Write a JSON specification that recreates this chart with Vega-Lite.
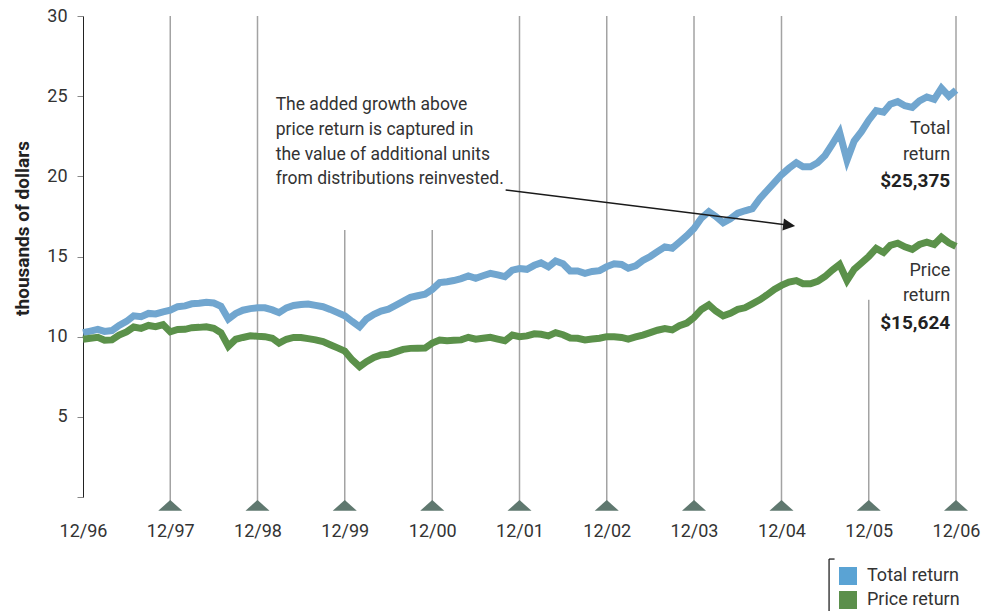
{
  "$schema": "https://vega.github.io/schema/vega-lite/v6.json",
  "width": 873,
  "height": 481,
  "autosize": {"type": "none"},
  "padding": {"left": 83, "top": 16, "right": 39, "bottom": 114},
  "config": {
    "view": {"stroke": null},
    "font": "Roboto"
  },
  "datasets": {
    "series": [
      {"d":"1996-12-01","Total return":10.25,"Price return":9.84},
      {"d":"1997-01-01","Total return":10.35,"Price return":9.9},
      {"d":"1997-02-01","Total return":10.46,"Price return":9.96},
      {"d":"1997-03-01","Total return":10.33,"Price return":9.78},
      {"d":"1997-04-01","Total return":10.38,"Price return":9.8},
      {"d":"1997-05-01","Total return":10.7,"Price return":10.1},
      {"d":"1997-06-01","Total return":10.95,"Price return":10.3},
      {"d":"1997-07-01","Total return":11.3,"Price return":10.6},
      {"d":"1997-08-01","Total return":11.25,"Price return":10.52},
      {"d":"1997-09-01","Total return":11.45,"Price return":10.7},
      {"d":"1997-10-01","Total return":11.42,"Price return":10.62},
      {"d":"1997-11-01","Total return":11.55,"Price return":10.75},
      {"d":"1997-12-01","Total return":11.65,"Price return":10.3},
      {"d":"1998-01-01","Total return":11.87,"Price return":10.45},
      {"d":"1998-02-01","Total return":11.92,"Price return":10.46},
      {"d":"1998-03-01","Total return":12.05,"Price return":10.56},
      {"d":"1998-04-01","Total return":12.08,"Price return":10.58},
      {"d":"1998-05-01","Total return":12.15,"Price return":10.62},
      {"d":"1998-06-01","Total return":12.1,"Price return":10.52},
      {"d":"1998-07-01","Total return":11.9,"Price return":10.25},
      {"d":"1998-08-01","Total return":11.1,"Price return":9.4},
      {"d":"1998-09-01","Total return":11.45,"Price return":9.84},
      {"d":"1998-10-01","Total return":11.65,"Price return":9.95},
      {"d":"1998-11-01","Total return":11.75,"Price return":10.05},
      {"d":"1998-12-01","Total return":11.8,"Price return":10.02},
      {"d":"1999-01-01","Total return":11.8,"Price return":10.0},
      {"d":"1999-02-01","Total return":11.67,"Price return":9.9},
      {"d":"1999-03-01","Total return":11.5,"Price return":9.6},
      {"d":"1999-04-01","Total return":11.8,"Price return":9.84},
      {"d":"1999-05-01","Total return":11.95,"Price return":9.95},
      {"d":"1999-06-01","Total return":12.0,"Price return":9.95},
      {"d":"1999-07-01","Total return":12.04,"Price return":9.88},
      {"d":"1999-08-01","Total return":11.95,"Price return":9.8},
      {"d":"1999-09-01","Total return":11.87,"Price return":9.69},
      {"d":"1999-10-01","Total return":11.7,"Price return":9.5},
      {"d":"1999-11-01","Total return":11.5,"Price return":9.3},
      {"d":"1999-12-01","Total return":11.3,"Price return":9.1},
      {"d":"2000-01-01","Total return":10.95,"Price return":8.55},
      {"d":"2000-02-01","Total return":10.62,"Price return":8.13},
      {"d":"2000-03-01","Total return":11.1,"Price return":8.44},
      {"d":"2000-04-01","Total return":11.4,"Price return":8.7},
      {"d":"2000-05-01","Total return":11.6,"Price return":8.86},
      {"d":"2000-06-01","Total return":11.72,"Price return":8.9},
      {"d":"2000-07-01","Total return":11.95,"Price return":9.05},
      {"d":"2000-08-01","Total return":12.2,"Price return":9.21},
      {"d":"2000-09-01","Total return":12.45,"Price return":9.27},
      {"d":"2000-10-01","Total return":12.55,"Price return":9.28},
      {"d":"2000-11-01","Total return":12.65,"Price return":9.29},
      {"d":"2000-12-01","Total return":12.95,"Price return":9.6},
      {"d":"2001-01-01","Total return":13.37,"Price return":9.79},
      {"d":"2001-02-01","Total return":13.43,"Price return":9.75},
      {"d":"2001-03-01","Total return":13.5,"Price return":9.77},
      {"d":"2001-04-01","Total return":13.62,"Price return":9.8},
      {"d":"2001-05-01","Total return":13.79,"Price return":9.96},
      {"d":"2001-06-01","Total return":13.64,"Price return":9.84},
      {"d":"2001-07-01","Total return":13.8,"Price return":9.9},
      {"d":"2001-08-01","Total return":13.95,"Price return":9.96},
      {"d":"2001-09-01","Total return":13.85,"Price return":9.85},
      {"d":"2001-10-01","Total return":13.74,"Price return":9.75},
      {"d":"2001-11-01","Total return":14.15,"Price return":10.1},
      {"d":"2001-12-01","Total return":14.25,"Price return":10.0},
      {"d":"2002-01-01","Total return":14.2,"Price return":10.05},
      {"d":"2002-02-01","Total return":14.45,"Price return":10.18},
      {"d":"2002-03-01","Total return":14.6,"Price return":10.15},
      {"d":"2002-04-01","Total return":14.35,"Price return":10.05},
      {"d":"2002-05-01","Total return":14.72,"Price return":10.25},
      {"d":"2002-06-01","Total return":14.55,"Price return":10.12},
      {"d":"2002-07-01","Total return":14.1,"Price return":9.92},
      {"d":"2002-08-01","Total return":14.1,"Price return":9.9},
      {"d":"2002-09-01","Total return":13.95,"Price return":9.8},
      {"d":"2002-10-01","Total return":14.07,"Price return":9.85},
      {"d":"2002-11-01","Total return":14.12,"Price return":9.9},
      {"d":"2002-12-01","Total return":14.37,"Price return":10.0},
      {"d":"2003-01-01","Total return":14.55,"Price return":10.0},
      {"d":"2003-02-01","Total return":14.5,"Price return":9.95},
      {"d":"2003-03-01","Total return":14.27,"Price return":9.85},
      {"d":"2003-04-01","Total return":14.42,"Price return":9.98},
      {"d":"2003-05-01","Total return":14.75,"Price return":10.1},
      {"d":"2003-06-01","Total return":15.0,"Price return":10.25},
      {"d":"2003-07-01","Total return":15.3,"Price return":10.4},
      {"d":"2003-08-01","Total return":15.6,"Price return":10.5},
      {"d":"2003-09-01","Total return":15.52,"Price return":10.42},
      {"d":"2003-10-01","Total return":15.9,"Price return":10.68},
      {"d":"2003-11-01","Total return":16.3,"Price return":10.85},
      {"d":"2003-12-01","Total return":16.75,"Price return":11.2},
      {"d":"2004-01-01","Total return":17.4,"Price return":11.7},
      {"d":"2004-02-01","Total return":17.8,"Price return":11.98},
      {"d":"2004-03-01","Total return":17.5,"Price return":11.6},
      {"d":"2004-04-01","Total return":17.1,"Price return":11.3},
      {"d":"2004-05-01","Total return":17.35,"Price return":11.46},
      {"d":"2004-06-01","Total return":17.7,"Price return":11.7},
      {"d":"2004-07-01","Total return":17.85,"Price return":11.8},
      {"d":"2004-08-01","Total return":17.98,"Price return":12.05},
      {"d":"2004-09-01","Total return":18.6,"Price return":12.3},
      {"d":"2004-10-01","Total return":19.1,"Price return":12.6},
      {"d":"2004-11-01","Total return":19.6,"Price return":12.95},
      {"d":"2004-12-01","Total return":20.1,"Price return":13.2},
      {"d":"2005-01-01","Total return":20.5,"Price return":13.4},
      {"d":"2005-02-01","Total return":20.85,"Price return":13.5},
      {"d":"2005-03-01","Total return":20.6,"Price return":13.3},
      {"d":"2005-04-01","Total return":20.6,"Price return":13.3},
      {"d":"2005-05-01","Total return":20.85,"Price return":13.45},
      {"d":"2005-06-01","Total return":21.3,"Price return":13.75},
      {"d":"2005-07-01","Total return":22.0,"Price return":14.15},
      {"d":"2005-08-01","Total return":22.75,"Price return":14.5},
      {"d":"2005-09-01","Total return":21.0,"Price return":13.5},
      {"d":"2005-10-01","Total return":22.2,"Price return":14.2},
      {"d":"2005-11-01","Total return":22.8,"Price return":14.6},
      {"d":"2005-12-01","Total return":23.5,"Price return":15.0},
      {"d":"2006-01-01","Total return":24.1,"Price return":15.5},
      {"d":"2006-02-01","Total return":24.0,"Price return":15.25},
      {"d":"2006-03-01","Total return":24.5,"Price return":15.7},
      {"d":"2006-04-01","Total return":24.66,"Price return":15.83},
      {"d":"2006-05-01","Total return":24.4,"Price return":15.6},
      {"d":"2006-06-01","Total return":24.3,"Price return":15.45},
      {"d":"2006-07-01","Total return":24.7,"Price return":15.75},
      {"d":"2006-08-01","Total return":24.95,"Price return":15.9},
      {"d":"2006-09-01","Total return":24.8,"Price return":15.75},
      {"d":"2006-10-01","Total return":25.5,"Price return":16.2},
      {"d":"2006-11-01","Total return":25.0,"Price return":15.85},
      {"d":"2006-12-01","Total return":25.375,"Price return":15.624}
    ],
    "decs": [
      {"d":"1997-12-01","top":30},
      {"d":"1998-12-01","top":30},
      {"d":"1999-12-01","top":16.65},
      {"d":"2000-12-01","top":16.65},
      {"d":"2001-12-01","top":30},
      {"d":"2002-12-01","top":30},
      {"d":"2003-12-01","top":30},
      {"d":"2004-12-01","top":30},
      {"d":"2005-12-01","top":12.3},
      {"d":"2006-12-01","top":30}
    ],
    "arrow": [
      {"d":"2001-10-04","v":19.15},
      {"d":"2005-01-02","v":16.95}
    ],
    "arrowhead": [
      {"d":"2005-01-02","v":16.95}
    ],
    "note": [
      {"d":"1999-02-15","v":25.0,"t":"The added growth above\nprice return is captured in\nthe value of additional units\nfrom distributions reinvested."}
    ],
    "endlabels": [
      {"d":"2006-11-07","v":23.5,"t":"Total\nreturn"},
      {"d":"2006-11-07","v":14.66,"t":"Price\nreturn"}
    ],
    "endvalues": [
      {"d":"2006-11-07","v":20.3,"t":"$25,375"},
      {"d":"2006-11-07","v":11.44,"t":"$15,624"}
    ],
    "bracket": [
      {"d":"2005-06-18","d2":"2005-06-18","v":-3.87,"v2":-7.5},
      {"d":"2005-06-18","d2":"2005-07-11","v":-3.87,"v2":-3.87}
    ]
  },
  "layer": [
    {
      "data": {"name": "decs"},
      "mark": {"type": "rule", "color": "#a3a3a3", "strokeWidth": 1.5},
      "encoding": {
        "x": {
          "field": "d", "type": "temporal",
          "scale": {"type": "utc", "domain": [{"year": 1996, "month": 12, "date": 1, "utc": true}, {"year": 2006, "month": 12, "date": 1, "utc": true}]},
          "axis": {
            "values": [
              {"year": 1996, "month": 12, "date": 1, "utc": true},
              {"year": 1997, "month": 12, "date": 1, "utc": true},
              {"year": 1998, "month": 12, "date": 1, "utc": true},
              {"year": 1999, "month": 12, "date": 1, "utc": true},
              {"year": 2000, "month": 12, "date": 1, "utc": true},
              {"year": 2001, "month": 12, "date": 1, "utc": true},
              {"year": 2002, "month": 12, "date": 1, "utc": true},
              {"year": 2003, "month": 12, "date": 1, "utc": true},
              {"year": 2004, "month": 12, "date": 1, "utc": true},
              {"year": 2005, "month": 12, "date": 1, "utc": true},
              {"year": 2006, "month": 12, "date": 1, "utc": true}
            ],
            "format": "%m/%y",
            "title": null,
            "domain": false,
            "ticks": false,
            "grid": false,
            "labelPadding": 25,
            "labelFont": "Roboto",
            "labelFontSize": 18,
            "labelColor": "#333333",
            "labelFlush": false,
            "labelOverlap": false
          }
        },
        "y": {
          "field": "top", "type": "quantitative",
          "scale": {"domain": [0, 30], "nice": false},
          "axis": {
            "values": [0, 5, 10, 15, 20, 25, 30],
            "labelExpr": "datum.value == 0 ? '' : datum.label",
            "title": "thousands of dollars",
            "titleFont": "Roboto",
            "titleFontSize": 19,
            "titleFontWeight": "bold",
            "titleColor": "#222222",
            "titleAngle": -90,
            "titleX": -61,
            "titleY": 212,
            "titleAlign": "center",
            "titleBaseline": "middle",
            "grid": false,
            "labelFont": "Roboto",
            "labelFontSize": 18,
            "labelColor": "#333333",
            "labelPadding": 10,
            "tickSize": 6,
            "tickColor": "#888888",
            "domainColor": "#222222"
          }
        },
        "y2": {"datum": -0.52}
      }
    },
    {
      "data": {"name": "decs"},
      "mark": {"type": "point", "shape": "M-1,0.45L0,-0.45L1,0.45Z", "filled": true, "color": "#5f786f", "opacity": 1, "size": 576, "strokeWidth": 0},
      "encoding": {
        "x": {"field": "d", "type": "temporal"},
        "y": {"datum": -0.52, "type": "quantitative"}
      }
    },
    {
      "data": {"name": "series"},
      "transform": [{"fold": ["Total return", "Price return"], "as": ["series", "value"]}],
      "mark": {"type": "line", "strokeWidth": 7, "strokeJoin": "miter"},
      "encoding": {
        "x": {"field": "d", "type": "temporal"},
        "y": {"field": "value", "type": "quantitative"},
        "color": {
          "field": "series", "type": "nominal",
          "scale": {"domain": ["Total return", "Price return"], "range": ["#71a6cf", "#5b914a"]},
          "legend": {
            "orient": "none",
            "legendX": 756,
            "legendY": 551,
            "title": null,
            "padding": 0,
            "symbolType": "square",
            "symbolSize": 324,
            "labelFont": "Roboto",
            "labelFontSize": 18,
            "labelColor": "#333333",
            "labelOffset": 10,
            "rowPadding": 6,
            "encode": {
              "symbols": {
                "update": {
                  "fill": [{"test": "datum.value === 'Total return'", "value": "#5aa3d4"}, {"value": "#5b8f4b"}],
                  "fillOpacity": {"value": 1},
                  "strokeWidth": {"value": 0}
                }
              }
            }
          }
        }
      }
    },
    {
      "data": {"name": "arrow"},
      "mark": {"type": "line", "color": "#1a1a1a", "strokeWidth": 1.5},
      "encoding": {
        "x": {"field": "d", "type": "temporal"},
        "y": {"field": "v", "type": "quantitative"}
      }
    },
    {
      "data": {"name": "arrowhead"},
      "mark": {"type": "point", "shape": "M-1,-1L1,0L-1,1Z", "filled": true, "color": "#1a1a1a", "opacity": 1, "size": 144, "angle": 7, "strokeWidth": 0},
      "encoding": {
        "x": {"field": "d", "type": "temporal"},
        "y": {"field": "v", "type": "quantitative"}
      }
    },
    {
      "data": {"name": "note"},
      "mark": {"type": "text", "align": "left", "baseline": "top", "lineBreak": "\n", "lineHeight": 24.7, "fontSize": 17.5, "font": "Roboto", "color": "#333333"},
      "encoding": {
        "x": {"field": "d", "type": "temporal"},
        "y": {"field": "v", "type": "quantitative"},
        "text": {"field": "t"}
      }
    },
    {
      "data": {"name": "endlabels"},
      "mark": {"type": "text", "align": "right", "baseline": "top", "lineBreak": "\n", "lineHeight": 25.5, "fontSize": 18, "font": "Roboto", "color": "#333333"},
      "encoding": {
        "x": {"field": "d", "type": "temporal"},
        "y": {"field": "v", "type": "quantitative"},
        "text": {"field": "t"}
      }
    },
    {
      "data": {"name": "endvalues"},
      "mark": {"type": "text", "align": "right", "baseline": "top", "fontSize": 19, "fontWeight": "bold", "font": "Roboto", "color": "#222222"},
      "encoding": {
        "x": {"field": "d", "type": "temporal"},
        "y": {"field": "v", "type": "quantitative"},
        "text": {"field": "t"}
      }
    },
    {
      "data": {"name": "bracket"},
      "mark": {"type": "rule", "color": "#222222", "strokeWidth": 1.3},
      "encoding": {
        "x": {"field": "d", "type": "temporal"},
        "x2": {"field": "d2"},
        "y": {"field": "v", "type": "quantitative"},
        "y2": {"field": "v2"}
      }
    }
  ]
}
